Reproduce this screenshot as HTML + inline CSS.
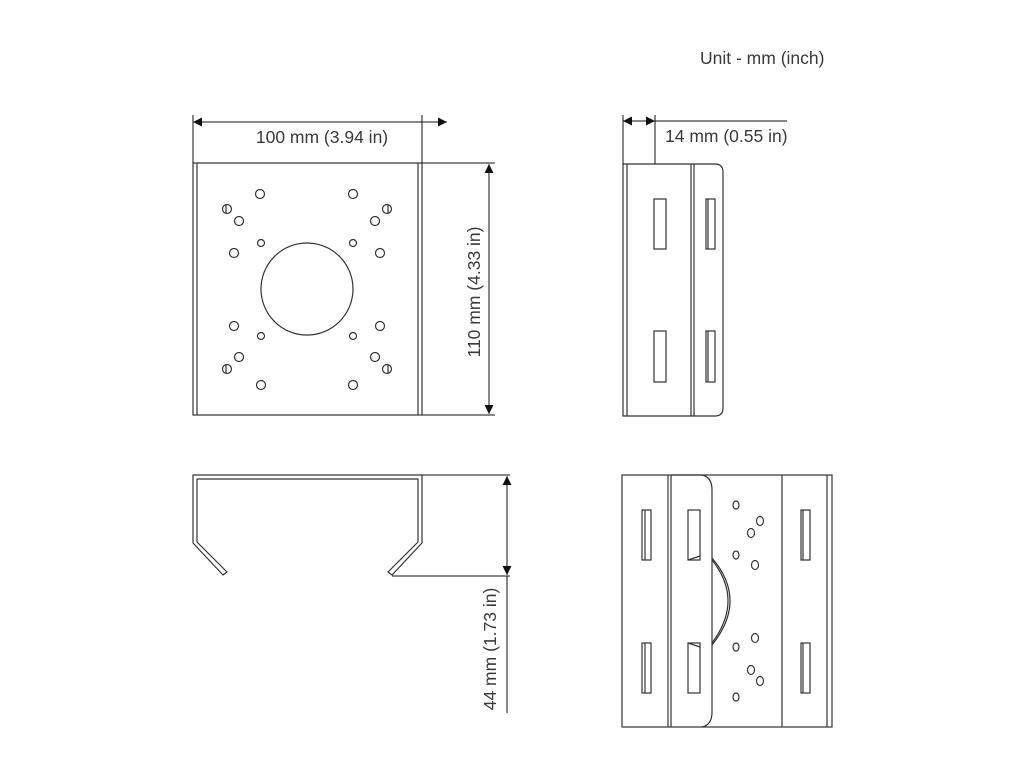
<!DOCTYPE html>
<html><head><meta charset="utf-8"><style>
html,body{margin:0;padding:0;background:#fff;}
svg{display:block;}
text{font-family:"Liberation Sans",sans-serif;fill:#3a3a3a;}
</style></head><body>
<svg width="1024" height="780" viewBox="0 0 1024 780" xmlns="http://www.w3.org/2000/svg">
<defs>
<marker id="a" viewBox="0 0 10 10" refX="10" refY="5" markerWidth="11" markerHeight="9" orient="auto-start-reverse" markerUnits="userSpaceOnUse"><path d="M0,0 L10,5 L0,10 z" fill="#111"/></marker>
</defs>
<text x="700" y="64" font-size="17.5">Unit - mm (inch)</text>

<g fill="none" stroke="#333" stroke-width="1.2">
<rect x="193" y="163" width="229" height="252"/>
<line x1="197" y1="163" x2="197" y2="415"/>
<line x1="418" y1="163" x2="418" y2="415"/>
<circle cx="307" cy="289" r="46"/>
<g>
<circle cx="260" cy="194" r="4.5"/><circle cx="353" cy="194" r="4.5"/>
<circle cx="227" cy="209" r="4.5"/><circle cx="387" cy="209" r="4.5"/>
<line x1="226" y1="205" x2="226" y2="213"/><line x1="388" y1="205" x2="388" y2="213"/>
<circle cx="239" cy="221" r="4.5"/><circle cx="375" cy="221" r="4.5"/>
<circle cx="261" cy="243" r="3.5"/><circle cx="353" cy="243" r="3.5"/>
<circle cx="234" cy="253" r="4.5"/><circle cx="380" cy="253" r="4.5"/>
<circle cx="234" cy="326" r="4.5"/><circle cx="380" cy="326" r="4.5"/>
<circle cx="261" cy="336" r="3.5"/><circle cx="353" cy="336" r="3.5"/>
<circle cx="239" cy="357" r="4.5"/><circle cx="375" cy="357" r="4.5"/>
<circle cx="227" cy="369" r="4.5"/><circle cx="387" cy="369" r="4.5"/>
<line x1="226" y1="365" x2="226" y2="373"/><line x1="388" y1="365" x2="388" y2="373"/>
<circle cx="261" cy="385" r="4.5"/><circle cx="353" cy="385" r="4.5"/>
</g>
</g>
<g stroke="#111" stroke-width="1" fill="none">
<line x1="193" y1="115" x2="193" y2="163"/>
<line x1="422" y1="115" x2="422" y2="163"/>
<line x1="193" y1="122" x2="447" y2="122" marker-start="url(#a)" marker-end="url(#a)"/>
<line x1="422" y1="163" x2="495" y2="163"/>
<line x1="422" y1="415" x2="495" y2="415"/>
<line x1="489" y1="164" x2="489" y2="414" marker-start="url(#a)" marker-end="url(#a)"/>
</g>
<text x="322" y="143" font-size="17.5" text-anchor="middle">100 mm (3.94 in)</text>
<text transform="translate(480,292) rotate(-90)" font-size="17.5" text-anchor="middle">110 mm (4.33 in)</text>

<g fill="none" stroke="#333" stroke-width="1.2">
<path d="M623,164 H715 Q723,164 723,172 V408 Q723,416 715,416 H623 Z"/>
<line x1="627" y1="164" x2="627" y2="416"/>
<line x1="691" y1="164" x2="691" y2="416"/>
<line x1="694" y1="164" x2="694" y2="416"/>
<rect x="654" y="199" width="12" height="50"/>
<rect x="654" y="331" width="12" height="51"/>
<rect x="706" y="199" width="9" height="50"/>
<rect x="706" y="331" width="9" height="51"/>
<line x1="708" y1="199" x2="708" y2="249"/>
<line x1="708" y1="331" x2="708" y2="382"/>
</g>
<g stroke="#111" stroke-width="1" fill="none">
<line x1="623" y1="115" x2="623" y2="164"/>
<line x1="655" y1="115" x2="655" y2="164"/>
<line x1="623" y1="121" x2="655" y2="121" marker-start="url(#a)" marker-end="url(#a)"/>
<line x1="655" y1="121" x2="787" y2="121"/>
</g>
<text x="665" y="142" font-size="17.5">14 mm (0.55 in)</text>

<g fill="none" stroke="#333" stroke-width="1.2" stroke-linejoin="round">
<path d="M193,543 V475 H422 V543 L392,575 L388,572 L418,542 V479 H197 V542 L227,572 L223,575 L193,543"/>
</g>
<g stroke="#111" stroke-width="1" fill="none">
<line x1="422" y1="475" x2="510" y2="475"/>
<line x1="392" y1="576" x2="510" y2="576"/>
<line x1="507" y1="476" x2="507" y2="575" marker-start="url(#a)" marker-end="url(#a)"/>
<line x1="507" y1="576" x2="507" y2="713"/>
</g>
<text transform="translate(496,649) rotate(-90)" font-size="17.5" text-anchor="middle">44 mm (1.73 in)</text>

<g fill="none" stroke="#333" stroke-width="1.2">
<rect x="622" y="475" width="210" height="252"/>
<line x1="668" y1="475" x2="668" y2="727"/>
<line x1="671" y1="475" x2="671" y2="727"/>
<path d="M671,475 H702 Q712,477 712,490 V712 Q712,725 702,727"/>
<line x1="782" y1="475" x2="782" y2="727"/>
<line x1="827" y1="475" x2="827" y2="727"/>
<path d="M712,558 Q748,600 712,645"/>
<path d="M712,560 Q744,600 712,643"/>
<rect x="642" y="510" width="9" height="50"/><line x1="645" y1="510" x2="645" y2="560"/>
<rect x="642" y="643" width="9" height="50"/><line x1="645" y1="643" x2="645" y2="693"/>
<rect x="688" y="510" width="12" height="50"/><line x1="688" y1="560" x2="700" y2="556"/>
<rect x="688" y="643" width="12" height="50"/><line x1="688" y1="643" x2="700" y2="647"/>
<rect x="801" y="510" width="9" height="50"/><line x1="803" y1="510" x2="803" y2="560"/>
<rect x="801" y="643" width="9" height="50"/><line x1="803" y1="643" x2="803" y2="693"/>
<ellipse cx="736" cy="505" rx="3" ry="4"/>
<ellipse cx="760" cy="521" rx="3.5" ry="4.5"/>
<ellipse cx="751" cy="533" rx="3.5" ry="4.5"/>
<ellipse cx="736" cy="555" rx="3" ry="4"/>
<ellipse cx="755" cy="565" rx="3.5" ry="4.5"/>
<ellipse cx="755" cy="638" rx="3.5" ry="4.5"/>
<ellipse cx="736" cy="647" rx="3" ry="4"/>
<ellipse cx="751" cy="670" rx="3.5" ry="4.5"/>
<ellipse cx="760" cy="681" rx="3.5" ry="4.5"/>
<ellipse cx="736" cy="697" rx="3" ry="4"/>
</g>
</svg>
</body></html>
